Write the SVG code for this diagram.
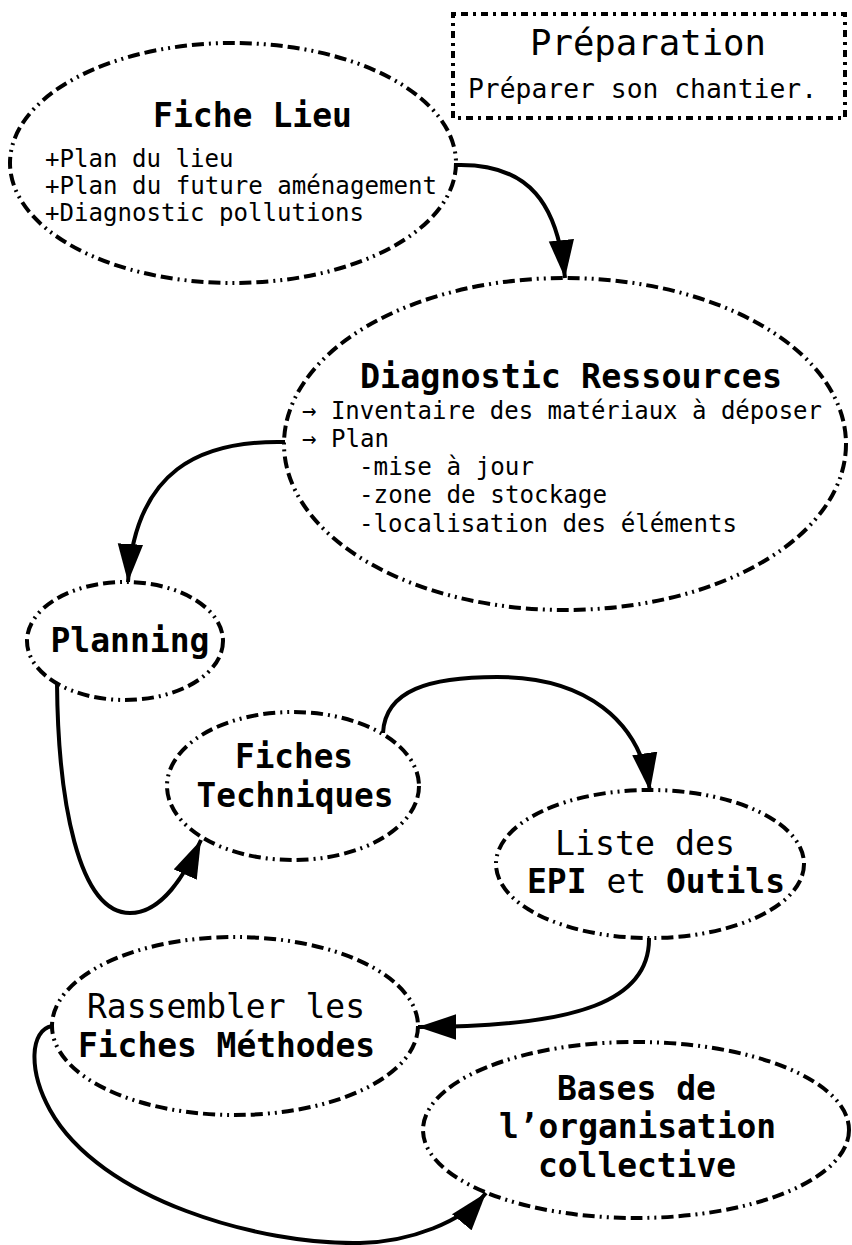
<svg xmlns="http://www.w3.org/2000/svg" width="852" height="1245" viewBox="0 0 852 1245">
<style>
.node{fill:none;stroke:#000;stroke-width:4;stroke-dasharray:12 5 12 5 2 5 2 5}
.box{fill:none;stroke:#000;stroke-width:4;stroke-dasharray:3 5 7 5}
.t{font-family:"DejaVu Sans Mono","Liberation Mono",monospace;fill:#000}
.b{font-weight:bold;font-size:34px}
.r{font-size:33px}
.s{font-size:25px}
.c{text-anchor:middle}
.edge{fill:none;stroke:#000;stroke-width:4;marker-end:url(#ah)}
</style>
<defs>
<marker id="ah" markerUnits="userSpaceOnUse" markerWidth="38" markerHeight="26" refX="36" refY="12" orient="auto" viewBox="0 0 36 24"><path d="M0,0 L36,12 L0,24 z" fill="#000"/></marker>
</defs>
<rect width="852" height="1245" fill="#fff"/>
<g id="preparation">
<rect class="box" x="453" y="14" width="392" height="104"/>
<text class="t c" x="648" y="55" font-size="36" textLength="236" lengthAdjust="spacingAndGlyphs">Préparation</text>
<text class="t" x="468" y="98" font-size="26" textLength="349" lengthAdjust="spacingAndGlyphs">Préparer son chantier.</text>
</g>
<g id="fiche-lieu">
<ellipse class="node" cx="233" cy="163" rx="223" ry="120"/>
<text class="t b c" x="252.5" y="127" textLength="199" lengthAdjust="spacingAndGlyphs">Fiche Lieu</text>
<text class="t s" x="45" y="167" textLength="188.5" lengthAdjust="spacingAndGlyphs">+Plan du lieu</text>
<text class="t s" x="45" y="194" textLength="392" lengthAdjust="spacingAndGlyphs">+Plan du future aménagement</text>
<text class="t s" x="45" y="221" textLength="319" lengthAdjust="spacingAndGlyphs">+Diagnostic pollutions</text>
</g>
<g id="diagnostic-ressources">
<ellipse class="node" cx="565" cy="444" rx="281" ry="166"/>
<text class="t b" x="360" y="388" textLength="422" lengthAdjust="spacingAndGlyphs">Diagnostic Ressources</text>
<text class="t s" x="302" y="419" textLength="520" lengthAdjust="spacingAndGlyphs">→ Inventaire des matériaux à déposer</text>
<text class="t s" x="302" y="447" textLength="87" lengthAdjust="spacingAndGlyphs">→ Plan</text>
<text class="t s" x="359" y="475" textLength="175" lengthAdjust="spacingAndGlyphs">-mise à jour</text>
<text class="t s" x="359" y="503" textLength="248" lengthAdjust="spacingAndGlyphs">-zone de stockage</text>
<text class="t s" x="359" y="532" textLength="378" lengthAdjust="spacingAndGlyphs">-localisation des éléments</text>
</g>
<g id="planning">
<ellipse class="node" cx="125" cy="641" rx="98" ry="59"/>
<text class="t b c" x="130" y="652" textLength="159" lengthAdjust="spacingAndGlyphs">Planning</text>
</g>
<g id="fiches-techniques">
<ellipse class="node" cx="293" cy="786" rx="126" ry="74"/>
<text class="t b c" x="294" y="768" textLength="118" lengthAdjust="spacingAndGlyphs">Fiches</text>
<text class="t b c" x="295" y="807" textLength="197" lengthAdjust="spacingAndGlyphs">Techniques</text>
</g>
<g id="liste-epi">
<ellipse class="node" cx="650" cy="864" rx="154" ry="74"/>
<text class="t r c" x="645" y="855" textLength="180" lengthAdjust="spacingAndGlyphs">Liste des</text>
<text class="t" y="893"><tspan class="b" x="527" textLength="59.5" lengthAdjust="spacingAndGlyphs">EPI</tspan><tspan class="r" x="606.4" textLength="39.7" lengthAdjust="spacingAndGlyphs">et</tspan><tspan class="b" x="666" textLength="119" lengthAdjust="spacingAndGlyphs">Outils</tspan></text>
</g>
<g id="fiches-methodes">
<ellipse class="node" cx="235" cy="1026" rx="183" ry="89"/>
<text class="t r" x="87" y="1018" textLength="278" lengthAdjust="spacingAndGlyphs">Rassembler les</text>
<text class="t b" x="78" y="1057" textLength="297" lengthAdjust="spacingAndGlyphs">Fiches Méthodes</text>
</g>
<g id="bases-organisation">
<ellipse class="node" cx="636" cy="1130" rx="213" ry="88"/>
<text class="t b" x="557" y="1100" textLength="159" lengthAdjust="spacingAndGlyphs">Bases de</text>
<text class="t b" x="499" y="1138" textLength="277" lengthAdjust="spacingAndGlyphs">l’organisation</text>
<text class="t b" x="538" y="1177" textLength="198" lengthAdjust="spacingAndGlyphs">collective</text>
</g>
<g id="connectors">
<path class="edge" d="M456,165 C530,163 558,205 565,278"/>
<path class="edge" d="M285,442 C200,440 135,470 128,582"/>
<path class="edge" d="M57,683 C58,800 78,913 130,913 C162,913 185,875 201,840"/>
<path class="edge" d="M383,733 C385,690 430,677 497,677 C585,677 640,720 650,791"/>
<path class="edge" d="M649,938 C650,1000 580,1027 418,1027"/>
<path class="edge" d="M52,1026 C30,1030 28,1070 50,1110 C100,1200 260,1245 360,1243 C410,1242 462,1222 486,1193"/>
</g>
</svg>
